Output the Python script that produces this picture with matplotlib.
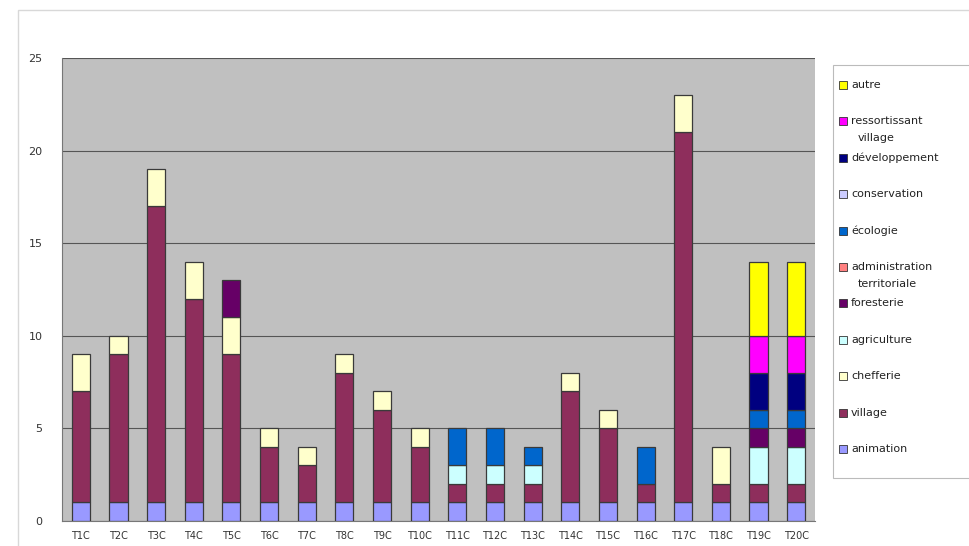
import matplotlib
matplotlib.use("Agg")
import matplotlib.pyplot as plt
from matplotlib.patches import Rectangle
import numpy as np

categories = ["T1C", "T2C", "T3C", "T4C", "T5C", "T6C", "T7C", "T8C", "T9C", "T10C",
              "T11C", "T12C", "T13C", "T14C", "T15C", "T16C", "T17C", "T18C", "T19C", "T20C"]

series_names = ["animation", "village", "chefferie", "agriculture", "foresterie",
                "administration territoriale", "écologie", "conservation",
                "développement village", "ressortissant village", "autre"]

animation      = [1, 1, 1, 1, 1, 1, 1, 1, 1, 1, 1, 1, 1, 1, 1, 1, 1, 1, 1, 1]
village        = [6, 8, 16, 11, 8, 3, 2, 7, 5, 3, 1, 1, 1, 6, 4, 1, 20, 1, 1, 1]
chefferie      = [2, 1, 2, 2, 2, 1, 1, 1, 1, 1, 0, 0, 0, 1, 1, 0, 2, 2, 0, 0]
agriculture    = [0, 0, 0, 0, 0, 0, 0, 0, 0, 0, 1, 1, 1, 0, 0, 0, 0, 0, 2, 2]
foresterie     = [0, 0, 0, 0, 2, 0, 0, 0, 0, 0, 0, 0, 0, 0, 0, 0, 0, 0, 1, 1]
admin_terr     = [0, 0, 0, 0, 0, 0, 0, 0, 0, 0, 0, 0, 0, 0, 0, 0, 0, 0, 0, 0]
ecologie       = [0, 0, 0, 0, 0, 0, 0, 0, 0, 0, 2, 2, 1, 0, 0, 2, 0, 0, 1, 1]
conservation   = [0, 0, 0, 0, 0, 0, 0, 0, 0, 0, 0, 0, 0, 0, 0, 0, 0, 0, 0, 0]
dev_village    = [0, 0, 0, 0, 0, 0, 0, 0, 0, 0, 0, 0, 0, 0, 0, 0, 0, 0, 2, 2]
ressortissant  = [0, 0, 0, 0, 0, 0, 0, 0, 0, 0, 0, 0, 0, 0, 0, 0, 0, 0, 2, 2]
autre          = [0, 0, 0, 0, 0, 0, 0, 0, 0, 0, 0, 0, 0, 0, 0, 0, 0, 0, 4, 4]

series_values = [animation, village, chefferie, agriculture, foresterie, admin_terr,
                 ecologie, conservation, dev_village, ressortissant, autre]
colors = ["#9999FF", "#8E2E5C", "#FFFFCC", "#CCFFFF", "#660066", "#FF8080",
          "#0066CC", "#CCCCFF", "#000080", "#FF00FF", "#FFFF00"]

yticks = [0, 5, 10, 15, 20, 25]

W, H = 970, 546
fig = plt.figure(figsize=(W / 100, H / 100), dpi=100)
fig.patch.set_facecolor("white")

# outer chart border
fig.patches.append(Rectangle((18 / W, -0.1), 1.2, 1 - 10 / H + 0.1, transform=fig.transFigure,
                             fill=False, edgecolor="#d8d8d8", linewidth=1.0, zorder=0))

ax = fig.add_axes([62 / W, 1 - 521 / H, (815 - 62) / W, (521 - 58) / H])
ax.set_facecolor("#C0C0C0")

x = np.arange(len(categories))
bottom = np.zeros(len(categories))
for name, vals, col in zip(series_names, series_values, colors):
    v = np.array(vals, dtype=float)
    m = v > 0
    if m.any():
        ax.bar(x[m], v[m], bottom=bottom[m], width=0.48, color=col, edgecolor="#3a3a3a",
               linewidth=0.9, zorder=3, label=name)
    bottom += v

ax.set_xlim(-0.5, len(categories) - 0.5)
ax.set_ylim(0, 25)
ax.set_yticks(yticks)
ax.set_yticklabels([str(t) for t in yticks], fontsize=8, color="#333333")
ax.tick_params(axis="y", length=0, pad=14)
ax.set_xticks(x)
ax.set_xticklabels(categories, fontsize=7, color="#333333")
ax.tick_params(axis="x", length=0, pad=7)
ax.yaxis.grid(True, color="#555555", linewidth=0.8, zorder=1)
ax.set_axisbelow(True)
for s in ["top", "right"]:
    ax.spines[s].set_visible(False)
ax.spines["left"].set_color("#777777")
ax.spines["bottom"].set_color("#777777")

# legend drawn in Excel style
fig.patches.append(Rectangle((833 / W, 1 - 478 / H), 0.2, (478 - 65) / H,
                             transform=fig.transFigure, fill=True, facecolor="white",
                             edgecolor="#bbbbbb", linewidth=0.8, zorder=1))
legend_labels = ["autre", "ressortissant\nvillage", "développement", "conservation",
                 "écologie", "administration\nterritoriale", "foresterie", "agriculture",
                 "chefferie", "village", "animation"]
legend_colors = colors[::-1]
y0 = 85
step = 36.4
for i, (lab, col) in enumerate(zip(legend_labels, legend_colors)):
    yc = y0 + i * step
    fig.patches.append(Rectangle((839 / W, 1 - (yc + 4) / H), 8 / W, 8 / H,
                                 transform=fig.transFigure, facecolor=col,
                                 edgecolor="#333333", linewidth=0.6, zorder=2))
    if "\n" in lab:
        l1, l2 = lab.split("\n")
        fig.text(851 / W, 1 - yc / H, l1, fontsize=8, color="#222222", va="center", ha="left")
        fig.text(858 / W, 1 - (yc + 17) / H, l2, fontsize=8, color="#222222", va="center", ha="left")
    else:
        fig.text(851 / W, 1 - yc / H, lab, fontsize=8, color="#222222", va="center", ha="left")

fig.savefig("out.png", dpi=100)
